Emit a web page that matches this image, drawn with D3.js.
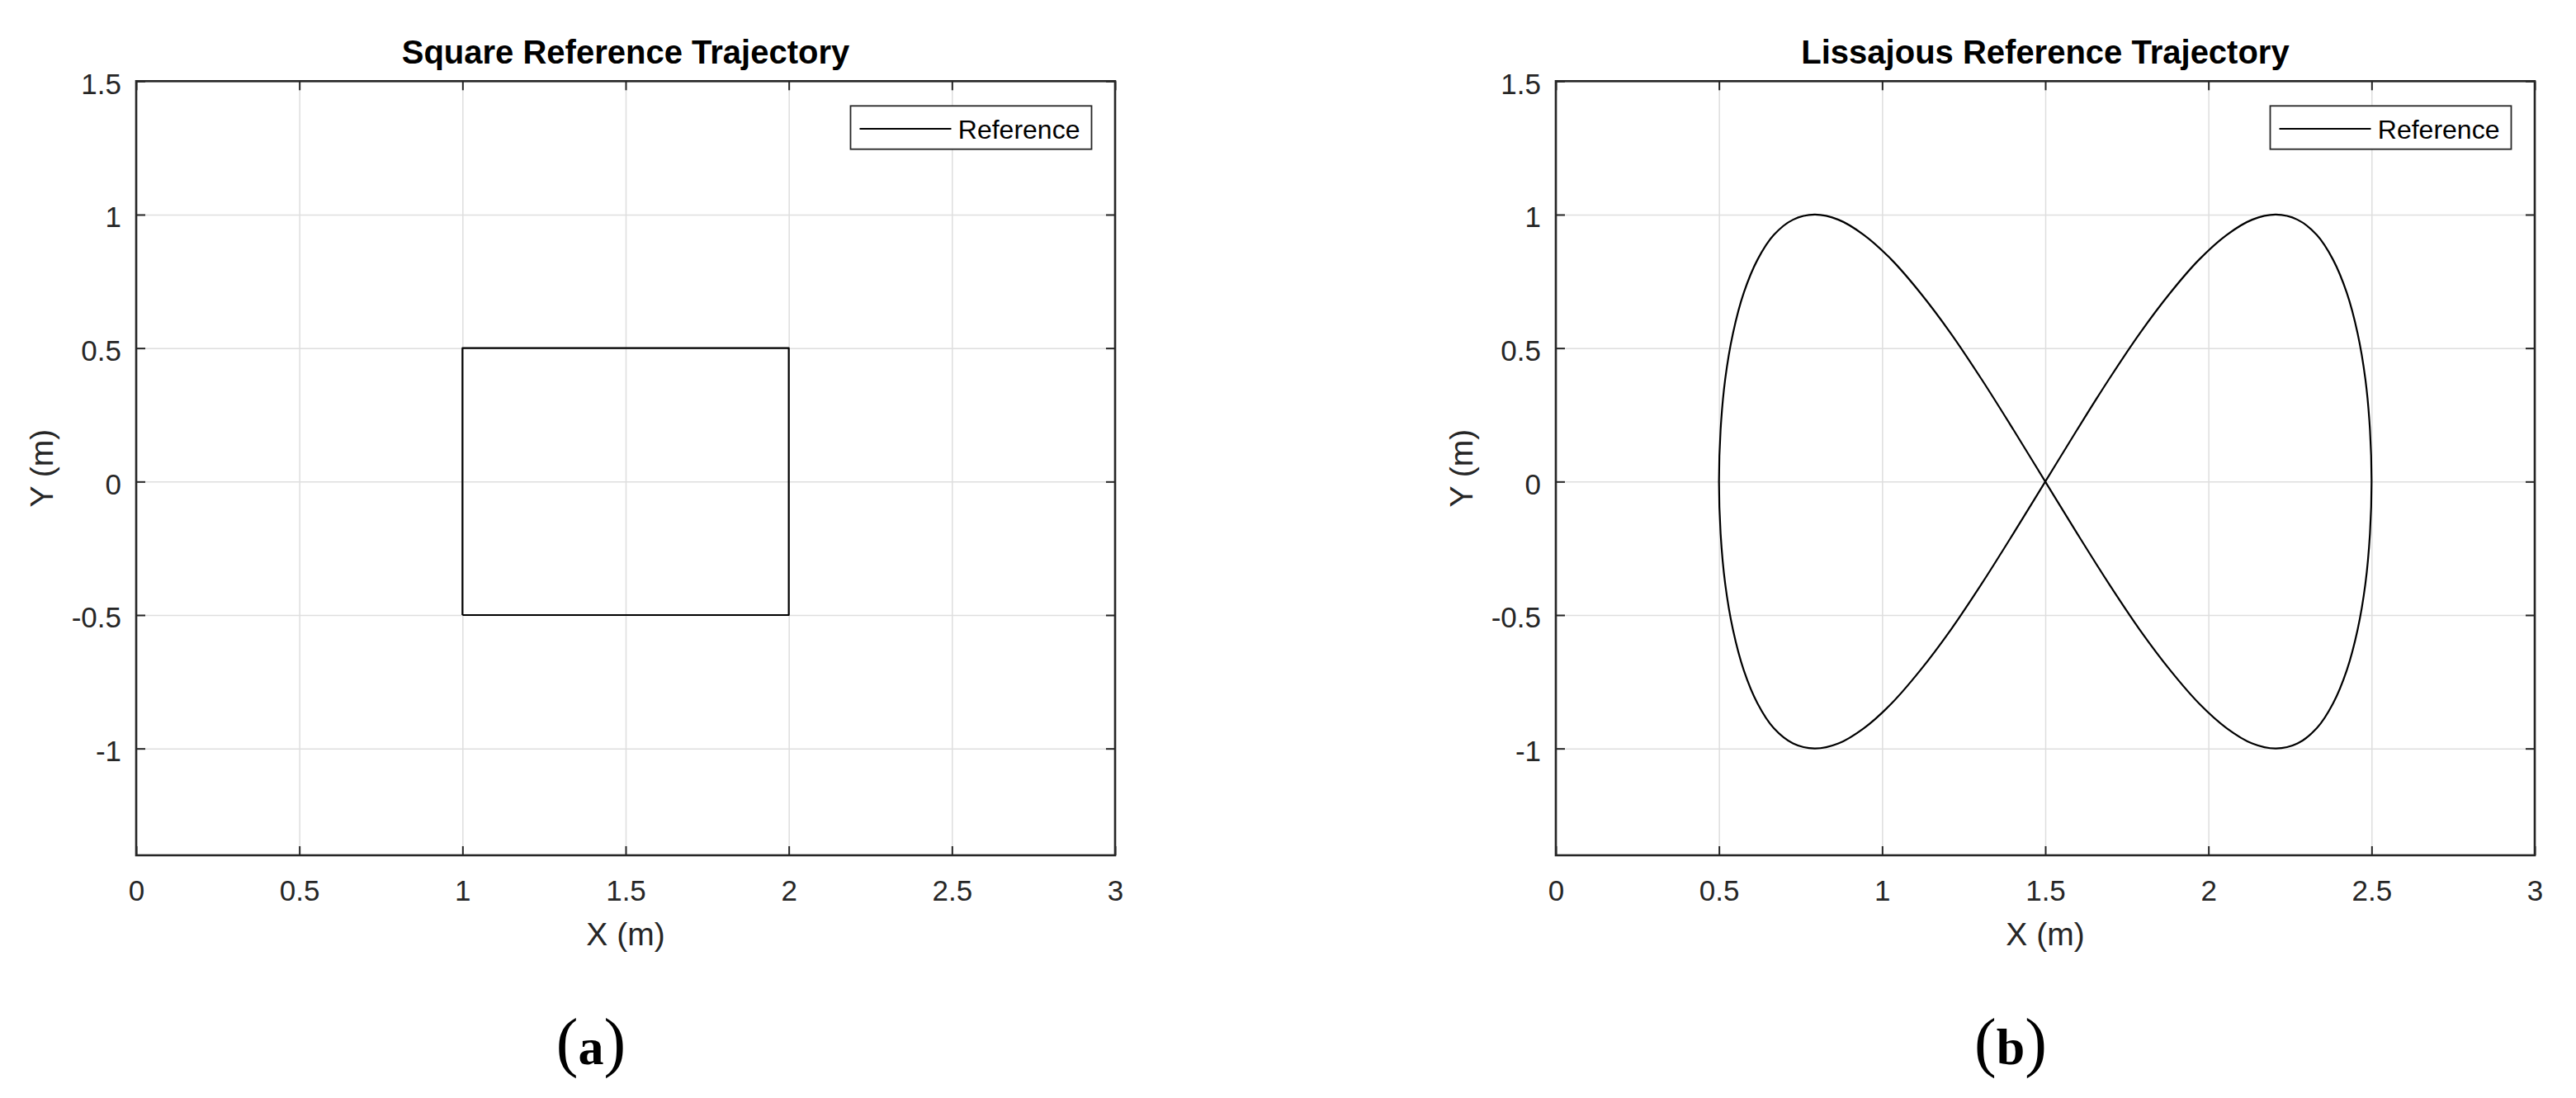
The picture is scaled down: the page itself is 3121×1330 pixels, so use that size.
<!DOCTYPE html>
<html>
<head>
<meta charset="utf-8">
<script src="https://cdn.jsdelivr.net/npm/d3@7"></script>
<style>
  html, body { margin: 0; padding: 0; background: #fff; }
  svg { display: block; }
</style>
</head>
<body>
<svg id="chart" width="3121" height="1330"></svg>
<script>
// ---- data ----
const xTicks = [0, 0.5, 1, 1.5, 2, 2.5, 3];
const yTicks = [-1, -0.5, 0, 0.5, 1, 1.5];
const xTickLabels = ["0", "0.5", "1", "1.5", "2", "2.5", "3"];
const yTickLabels = ["-1", "-0.5", "0", "0.5", "1", "1.5"];
const xDomain = [0, 3];
const yDomain = [-1.4, 1.5];

const squareX = [1, 2, 2, 1, 1];
const squareY = [-0.5, -0.5, 0.5, 0.5, -0.5];

const lissajousX = [1.500, 1.598, 1.695, 1.790, 1.883, 1.971, 2.056, 2.134, 2.207, 2.273, 2.332, 2.382, 2.424, 2.457, 2.481, 2.495,
                    2.500, 2.495, 2.481, 2.457, 2.424, 2.382, 2.332, 2.273, 2.207, 2.134, 2.056, 1.971, 1.883, 1.790, 1.695, 1.598,
                    1.500, 1.402, 1.305, 1.210, 1.117, 1.029, 0.944, 0.866, 0.793, 0.727, 0.668, 0.618, 0.576, 0.543, 0.519, 0.505,
                    0.500, 0.505, 0.519, 0.543, 0.576, 0.618, 0.668, 0.727, 0.793, 0.866, 0.944, 1.029, 1.117, 1.210, 1.305, 1.402];
const lissajousY = [0.000, 0.195, 0.383, 0.556, 0.707, 0.831, 0.924, 0.981, 1.000, 0.981, 0.924, 0.831, 0.707, 0.556, 0.383, 0.195,
                    0.000, -0.195, -0.383, -0.556, -0.707, -0.831, -0.924, -0.981, -1.000, -0.981, -0.924, -0.831, -0.707, -0.556, -0.383, -0.195,
                    0.000, 0.195, 0.383, 0.556, 0.707, 0.831, 0.924, 0.981, 1.000, 0.981, 0.924, 0.831, 0.707, 0.556, 0.383, 0.195,
                    0.000, -0.195, -0.383, -0.556, -0.707, -0.831, -0.924, -0.981, -1.000, -0.981, -0.924, -0.831, -0.707, -0.556, -0.383, -0.195];

const titles = ["Square Reference Trajectory", "Lissajous Reference Trajectory"];
const subLabels = ["a", "b"];
const legendLabel = "Reference";
const xLabel = "X (m)";
const yLabel = "Y (m)";

// ---- layout ----
const svg = d3.select("#chart");
const panels = [
  { left: 165, right: 1351, xs: squareX, ys: squareY, closed: false },
  { left: 1885, right: 3071, xs: lissajousX, ys: lissajousY, closed: true }
];
const plotTop = 98.3, plotBottom = 1036;
const axisColor = "#262626";
const font = "'Liberation Sans', Arial, sans-serif";

panels.forEach((p, i) => {
  const g = svg.append("g");
  const x = d3.scaleLinear().domain(xDomain).range([p.left, p.right]);
  const y = d3.scaleLinear().domain(yDomain).range([plotBottom, plotTop]);
  const w = p.right - p.left, h = plotBottom - plotTop;
  const cx = (p.left + p.right) / 2;

  // grid
  g.append("g").attr("transform", `translate(0,${plotBottom})`)
    .call(d3.axisBottom(x).tickValues(xTicks).tickSize(-h).tickFormat(""))
    .call(s => { s.select(".domain").remove(); s.selectAll("line").attr("stroke", "#dedede").attr("stroke-width", 1.5); });
  g.append("g").attr("transform", `translate(${p.left},0)`)
    .call(d3.axisLeft(y).tickValues(yTicks).tickSize(-w).tickFormat(""))
    .call(s => { s.select(".domain").remove(); s.selectAll("line").attr("stroke", "#dedede").attr("stroke-width", 1.5); });

  // data line
  const pts = p.xs.map((v, k) => [v, p.ys[k]]);
  const line = d3.line().x(d => x(d[0])).y(d => y(d[1]))
    .curve(p.closed ? d3.curveCatmullRomClosed.alpha(0.5) : d3.curveLinear);
  g.append("path").datum(pts).attr("d", line)
    .attr("fill", "none").attr("stroke", "#000").attr("stroke-width", 2.2).attr("stroke-linejoin", "round");

  // axes with inward ticks
  const styleAxis = s => {
    s.select(".domain").remove();
    s.selectAll("line").attr("stroke", axisColor).attr("stroke-width", 2);
    s.selectAll("text").attr("fill", axisColor).style("font-family", font).style("font-size", "35px");
  };
  g.append("g").attr("transform", `translate(0,${plotBottom})`)
    .call(d3.axisBottom(x).tickValues(xTicks).tickSizeInner(-11).tickSizeOuter(0).tickPadding(30)
      .tickFormat((d, k) => xTickLabels[k]))
    .call(styleAxis);
  g.append("g").attr("transform", `translate(0,${plotTop})`)
    .call(d3.axisTop(x).tickValues(xTicks).tickSizeInner(-11).tickSizeOuter(0).tickFormat(""))
    .call(styleAxis);
  g.append("g").attr("transform", `translate(${p.left},0)`)
    .call(d3.axisLeft(y).tickValues(yTicks).tickSizeInner(-11).tickSizeOuter(0).tickPadding(18)
      .tickFormat((d, k) => yTickLabels[k]))
    .call(styleAxis)
    .call(s => s.selectAll("text").attr("dy", "0.42em"));
  g.append("g").attr("transform", `translate(${p.right},0)`)
    .call(d3.axisRight(y).tickValues(yTicks).tickSizeInner(-11).tickSizeOuter(0).tickFormat(""))
    .call(styleAxis);

  // frame
  g.append("rect").attr("x", p.left).attr("y", plotTop).attr("width", w).attr("height", h)
    .attr("fill", "none").attr("stroke", axisColor).attr("stroke-width", 2.6);

  // title
  g.append("text").attr("x", cx).attr("y", 77).attr("text-anchor", "middle")
    .style("font-family", font).style("font-size", "40px").style("font-weight", "bold")
    .attr("fill", "#000").text(titles[i]);

  // axis labels
  g.append("text").attr("x", cx).attr("y", 1145).attr("text-anchor", "middle")
    .style("font-family", font).style("font-size", "39px").attr("fill", axisColor).text(xLabel);
  g.append("text").attr("transform", `translate(${p.left - 101},${(plotTop + plotBottom) / 2}) rotate(-90)`)
    .attr("text-anchor", "middle")
    .style("font-family", font).style("font-size", "39px").attr("fill", axisColor).text(yLabel);

  // legend
  const lw = 292, lh = 52.4;
  const lx = p.right - 28.5 - lw, ly = 128.3;
  g.append("rect").attr("x", lx).attr("y", ly).attr("width", lw).attr("height", lh)
    .attr("fill", "#fff").attr("stroke", axisColor).attr("stroke-width", 1.8);
  g.append("line").attr("x1", lx + 11).attr("x2", lx + 122).attr("y1", ly + 27.7).attr("y2", ly + 27.7)
    .attr("stroke", "#000").attr("stroke-width", 2.2);
  g.append("text").attr("x", lx + 130.3).attr("y", ly + 40)
    .style("font-family", font).style("font-size", "32px").attr("fill", "#000").text(legendLabel);

  // sub-label (a)/(b)
  const t = svg.append("text").attr("x", cx - 42).attr("y", 1289).attr("text-anchor", "middle")
    .style("font-family", "'Liberation Serif', 'Times New Roman', serif").attr("fill", "#000");
  t.append("tspan").style("font-size", "80px").text("(");
  t.append("tspan").style("font-size", "62px").style("font-weight", "bold").text(subLabels[i]);
  t.append("tspan").style("font-size", "80px").text(")");
});
</script>
</body>
</html>
